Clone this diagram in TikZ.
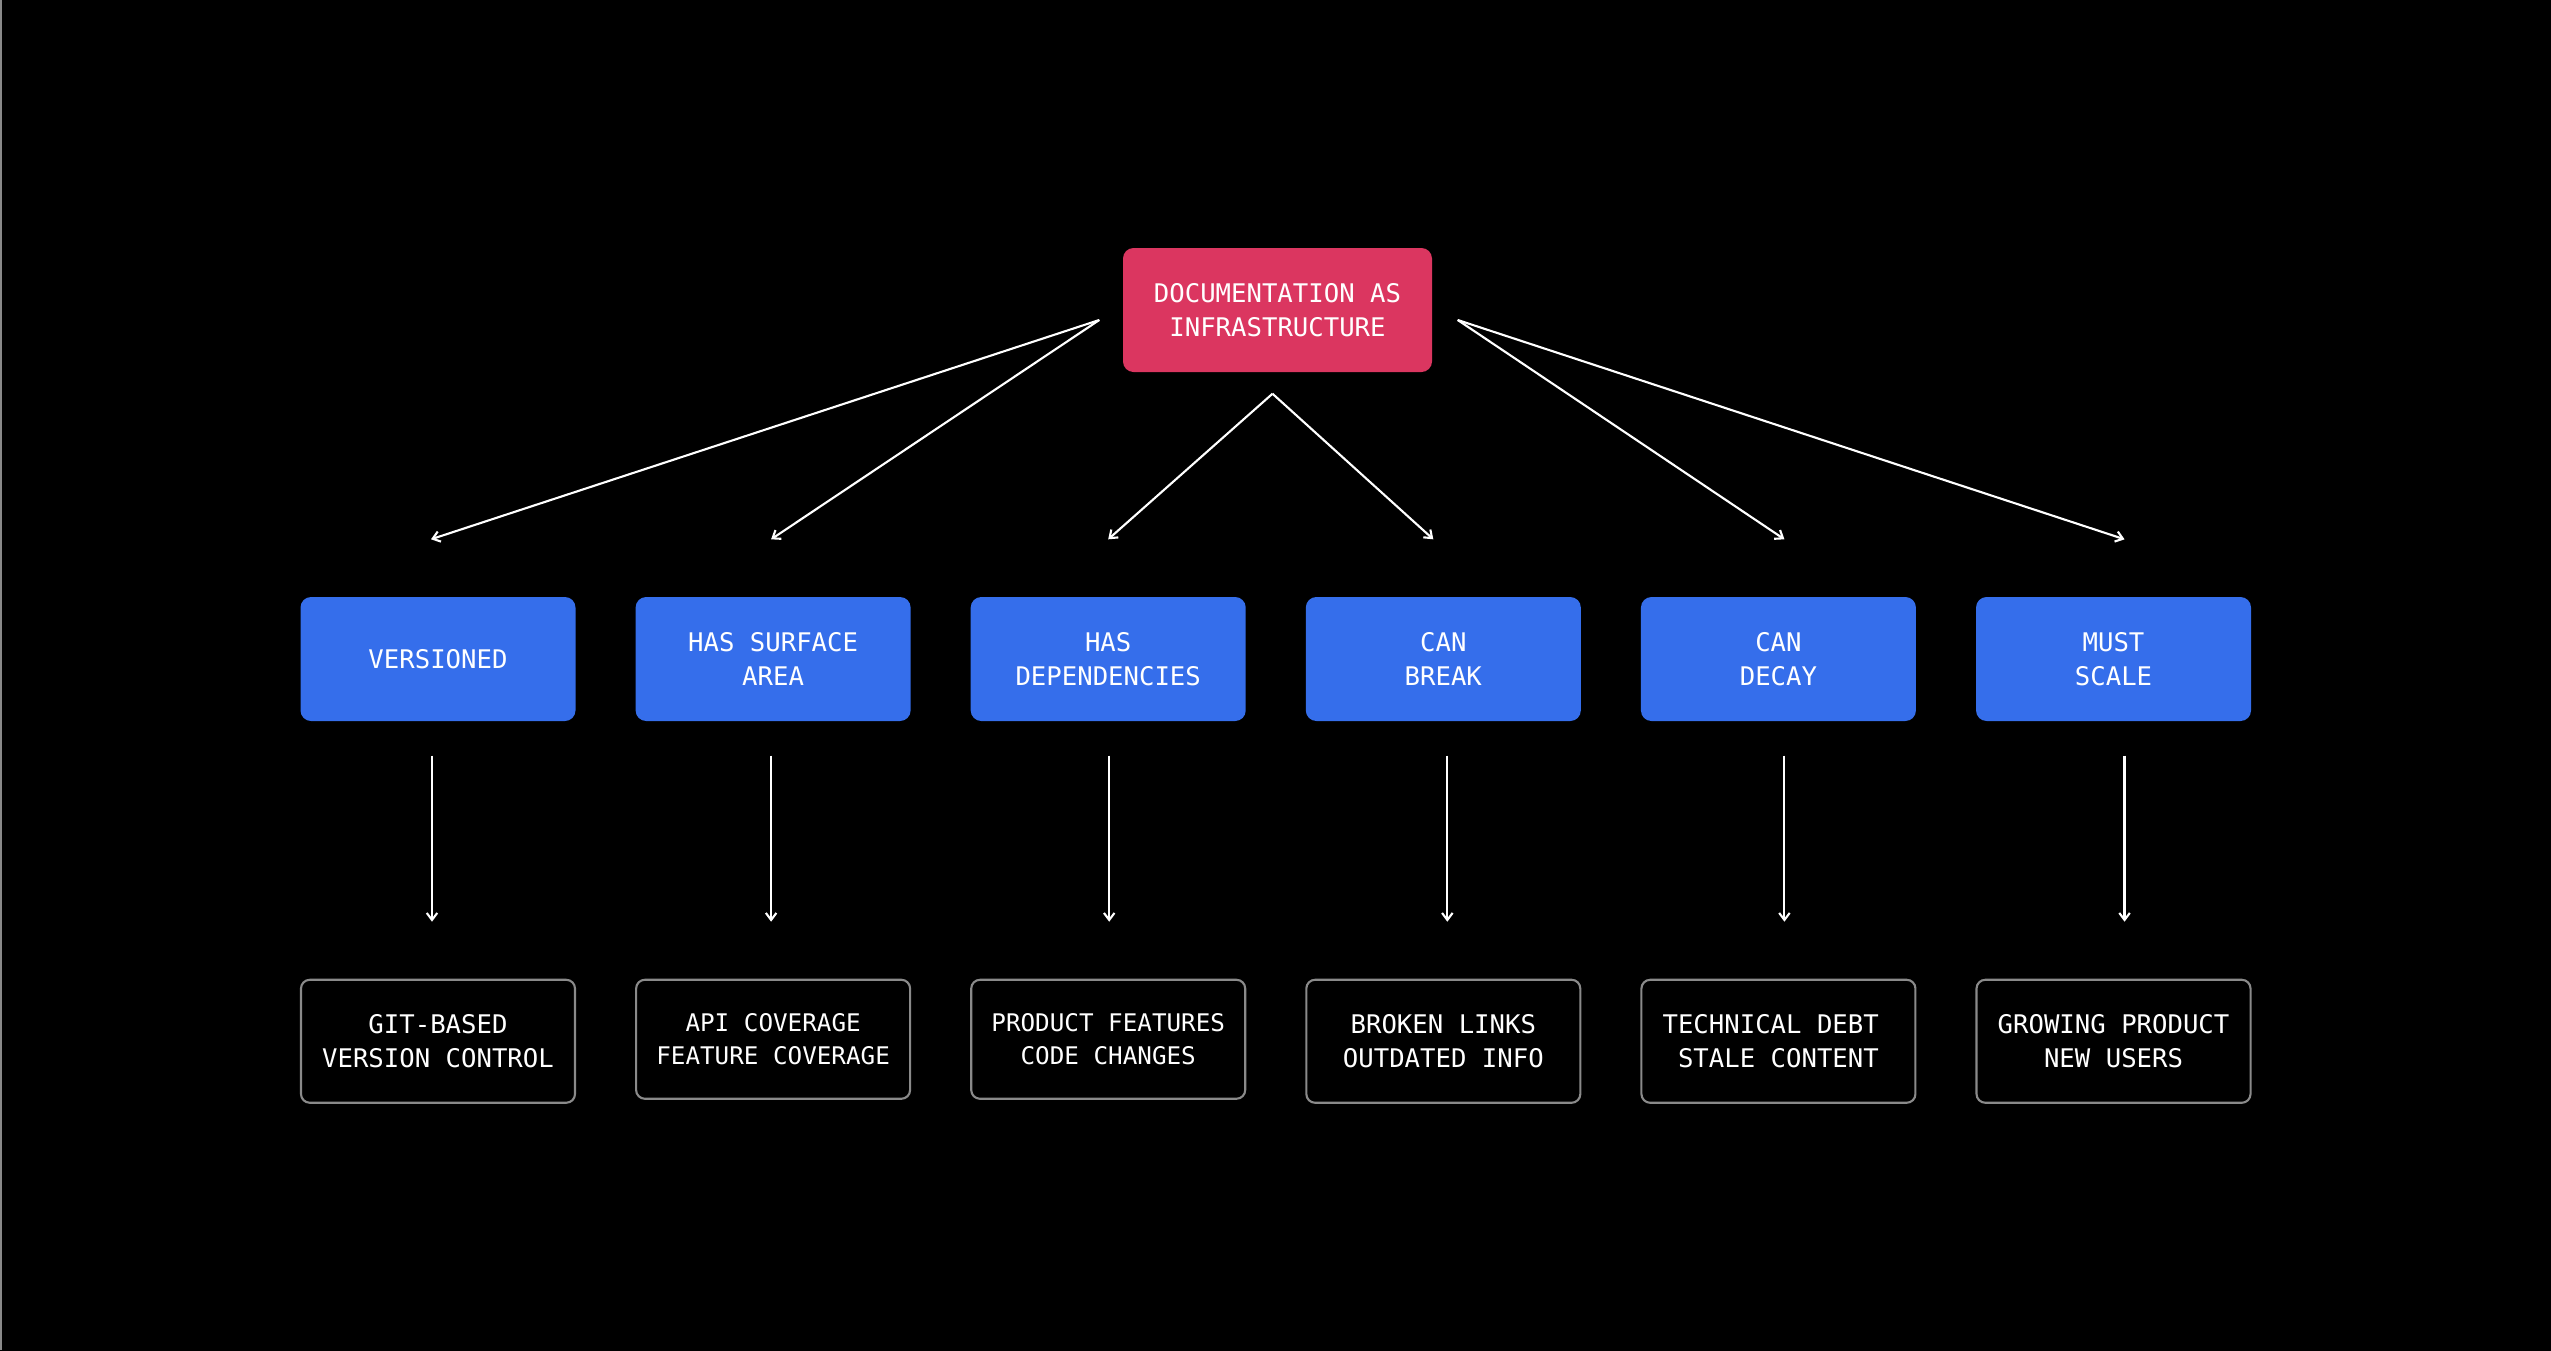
\documentclass[tikz,border=0pt]{standalone}
\usepackage{fontspec}
\setmonofont{DejaVu Sans Mono}
\usepackage{xcolor}
\usetikzlibrary{positioning, arrows.meta}
\definecolor{rootred}{RGB}{219, 54, 96}
\definecolor{traitblue}{RGB}{53, 110, 235}
\definecolor{edgegray}{RGB}{138, 138, 138}
\tikzset{
    base/.style={align=center, text=white, font=\fontsize{7.3}{9.6}\selectfont\ttfamily, inner sep=2pt},
    rootbox/.style={base, rectangle, rounded corners=3pt, fill=rootred, minimum width=3.09cm, minimum height=1.24cm},
    trait/.style={base, rectangle, rounded corners=3pt, fill=traitblue, minimum width=2.75cm, minimum height=1.24cm},
    effect/.style={base, rectangle, rounded corners=2.5pt, draw=edgegray, line width=0.6pt, fill=black, minimum width=2.74cm, minimum height=1.23cm},
    tight/.style={font=\fontsize{6.9}{9.6}\selectfont\ttfamily, minimum height=1.19cm},
    arrow/.style={-{Straight Barb[length=2pt, width=3pt]}, line width=0.6pt, draw=white}
}

\begin{document}
\begin{tikzpicture}

% Canvas
\useasboundingbox (0,0) rectangle (25.51,-13.5);
\fill[black] (-0.1,0.1) rectangle (25.61,-13.6);
\draw[edgegray, line width=0.3pt] (0.01,0) -- (0.01,-13.5);

% Nodes
\node[rootbox] (root) at (12.775,-3.10) {DOCUMENTATION AS\\INFRASTRUCTURE};

\node[trait] (versioned) at (4.38,-6.59) {VERSIONED};
\node[trait, right=0.587cm of versioned] (surface) {HAS SURFACE\\AREA};
\node[trait, right=0.587cm of surface] (deps) {HAS\\DEPENDENCIES};
\node[trait, right=0.587cm of deps] (break) {CAN\\BREAK};
\node[trait, right=0.587cm of break] (decay) {CAN\\DECAY};
\node[trait, right=0.587cm of decay] (scale) {MUST\\SCALE};

\node[effect, below=2.57cm of versioned] (git) {GIT-BASED\\VERSION CONTROL};
\node[effect, tight, below=2.57cm of surface] (coverage) {API COVERAGE\\FEATURE COVERAGE};
\node[effect, tight, below=2.57cm of deps] (changes) {PRODUCT FEATURES\\CODE CHANGES};
\node[effect, below=2.57cm of break] (links) {BROKEN LINKS\\OUTDATED INFO};
\node[effect, below=2.57cm of decay] (debt) {TECHNICAL DEBT\hphantom{T}\\STALE CONTENT};
\node[effect, below=2.57cm of scale] (growth) {GROWING PRODUCT\\NEW USERS};

% Fan-out
\draw[arrow] ([xshift=-0.23cm, yshift=-0.10cm]root.west) -- ([xshift=-0.07cm, yshift=0.57cm]versioned.north);
\draw[arrow] ([xshift=-0.23cm, yshift=-0.10cm]root.west) -- ([xshift=-0.02cm, yshift=0.57cm]surface.north);
\draw[arrow] ([xshift=-0.05cm, yshift=-0.21cm]root.south) -- ([yshift=0.57cm]deps.north);
\draw[arrow] ([xshift=-0.05cm, yshift=-0.21cm]root.south) -- ([xshift=-0.10cm, yshift=0.57cm]break.north);
\draw[arrow] ([xshift=0.25cm, yshift=-0.10cm]root.east) -- ([xshift=0.06cm, yshift=0.57cm]decay.north);
\draw[arrow] ([xshift=0.25cm, yshift=-0.10cm]root.east) -- ([xshift=0.11cm, yshift=0.57cm]scale.north);

% Consequences
\draw[arrow] ([xshift=-0.06cm, yshift=-0.34cm]versioned.south) -- ([xshift=-0.06cm, yshift=0.57cm]git.north);
\draw[arrow] ([xshift=-0.02cm, yshift=-0.34cm]surface.south) -- ([xshift=-0.02cm, yshift=0.57cm]coverage.north);
\draw[arrow] ([xshift=0.01cm, yshift=-0.34cm]deps.south) -- ([xshift=0.01cm, yshift=0.57cm]changes.north);
\draw[arrow] ([xshift=0.04cm, yshift=-0.34cm]break.south) -- ([xshift=0.04cm, yshift=0.57cm]links.north);
\draw[arrow] ([xshift=0.06cm, yshift=-0.34cm]decay.south) -- ([xshift=0.06cm, yshift=0.57cm]debt.north);
\draw[arrow] ([xshift=0.11cm, yshift=-0.34cm]scale.south) -- ([xshift=0.11cm, yshift=0.57cm]growth.north);

\end{tikzpicture}
\end{document}
